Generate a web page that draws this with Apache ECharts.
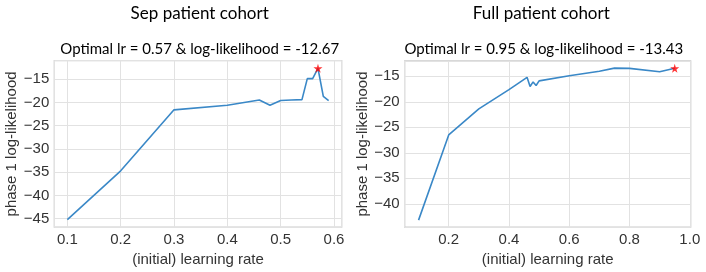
<!DOCTYPE html>
<html><head><meta charset="utf-8">
<script src="https://cdn.jsdelivr.net/npm/echarts@6/dist/echarts.min.js"></script>
<style>html,body{margin:0;padding:0;background:#fff}#c{width:706px;height:272px}</style>
</head><body><div id="c"></div>
<script>
// Left panel: Sep patient cohort
const sepLr = [0.1, 0.2, 0.3, 0.4, 0.46, 0.48, 0.5, 0.52, 0.54, 0.55, 0.56, 0.57, 0.58, 0.59];
const sepLL = [-45.2, -34.7, -21.6, -20.6, -19.5, -20.6, -19.6, -19.5, -19.4, -14.9, -14.9, -12.67, -18.7, -19.6];
const sepBest = [0.57, -12.67];
// Right panel: Full patient cohort
const fullLr = [0.1, 0.2, 0.3, 0.4, 0.46, 0.47, 0.48, 0.49, 0.5, 0.6, 0.7, 0.75, 0.8, 0.9, 0.95];
const fullLL = [-43.2, -26.5, -21.4, -17.6, -15.2, -17.0, -16.1, -16.8, -15.9, -14.9, -14.0, -13.4, -13.45, -14.1, -13.43];
const fullBest = [0.95, -13.43];

const titles = ['Sep patient cohort', 'Full patient cohort'];
const subtitles = ['Optimal lr = 0.57 & log-likelihood = -12.67', 'Optimal lr = 0.95 & log-likelihood = -13.43'];
const xName = '(initial) learning rate';
const yName = 'phase 1 log-likelihood';

const pair = (xs, ys) => xs.map((x, i) => [x, ys[i]]);
const lineColor = '#3a88c7';
const tickColor = '#333';
const starPath = 'path://M50,0 L61,35 L98,35 L68,57 L79,91 L50,70 L21,91 L32,57 L2,35 L39,35 Z';

function xFmt(step) {
  return v => {
    const k = Math.round(v / step);
    if (Math.abs(v - k * step) > 1e-6) return '';
    return (k * step).toFixed(1);
  };
}
function yFmt(v) {
  const k = Math.round(v / 5);
  if (Math.abs(v - k * 5) > 1e-6) return '';
  const n = k * 5;
  return n < 0 ? '\u2212' + Math.abs(n) : String(n);
}
const labelFont = {fontSize: 15, fontFamily: 'Liberation Sans', color: tickColor};

function xAxis(gi, min, max, step) {
  return {
    gridIndex: gi, type: 'value', min: min, max: max, splitNumber: 5,
    minInterval: step, maxInterval: step,
    axisLine: {show: false}, axisTick: {show: false},
    splitLine: {show: true, lineStyle: {color: '#e2e2e2', width: 1}},
    axisLabel: Object.assign({margin: 5, formatter: xFmt(step)}, labelFont),
    name: xName, nameLocation: 'middle', nameGap: 24,
    nameTextStyle: Object.assign({}, labelFont)
  };
}
function yAxis(gi, min, max, gap) {
  return {
    gridIndex: gi, type: 'value', min: min, max: max, splitNumber: 7,
    minInterval: 5, maxInterval: 5,
    axisLine: {show: false}, axisTick: {show: false},
    splitLine: {show: true, lineStyle: {color: '#e2e2e2', width: 1}},
    axisLabel: Object.assign({margin: 5, formatter: yFmt}, labelFont),
    name: yName, nameLocation: 'middle', nameGap: gap,
    nameTextStyle: Object.assign({}, labelFont)
  };
}
function textEl(txt, x, y, size) {
  return {type: 'text', x: x, y: y, z: 10,
    style: {text: txt, fontSize: size, fontFamily: 'Lato', fill: '#000',
      align: 'center', verticalAlign: 'middle', textAlign: 'center', textVerticalAlign: 'middle'}};
}

const chart = echarts.init(document.getElementById('c'), null, {renderer: 'canvas'});
chart.setOption({
  animation: false,
  backgroundColor: '#fff',
  graphic: [
    textEl(titles[0], 199.7, 14, 17),
    textEl(subtitles[0], 199.7, 49, 15),
    textEl(titles[1], 541.3, 14, 17),
    textEl(subtitles[1], 543.8, 49, 15)
  ],
  grid: [
    {left: 54.3, top: 60.7, width: 287.4, height: 167, show: true, borderColor: '#cccccc', borderWidth: 1.3},
    {left: 404.7, top: 61, width: 286, height: 166.7, show: true, borderColor: '#cccccc', borderWidth: 1.3}
  ],
  xAxis: [xAxis(0, 0.0755, 0.6145, 0.1), xAxis(1, 0.054, 1.003, 0.2)],
  yAxis: [yAxis(0, -46.8, -11.04, 35), yAxis(1, -44.57, -12.0, 32)],
  series: [
    {type: 'line', xAxisIndex: 0, yAxisIndex: 0, data: pair(sepLr, sepLL), showSymbol: false,
      lineStyle: {color: lineColor, width: 1.6}, itemStyle: {color: lineColor}},
    {type: 'scatter', xAxisIndex: 0, yAxisIndex: 0, data: [sepBest], symbol: starPath, symbolSize: 9,
      itemStyle: {color: '#ff0000'}, z: 5},
    {type: 'line', xAxisIndex: 1, yAxisIndex: 1, data: pair(fullLr, fullLL), showSymbol: false,
      lineStyle: {color: lineColor, width: 1.6}, itemStyle: {color: lineColor}},
    {type: 'scatter', xAxisIndex: 1, yAxisIndex: 1, data: [fullBest], symbol: starPath, symbolSize: 9,
      itemStyle: {color: '#ff0000'}, z: 5}
  ]
});
</script></body></html>
